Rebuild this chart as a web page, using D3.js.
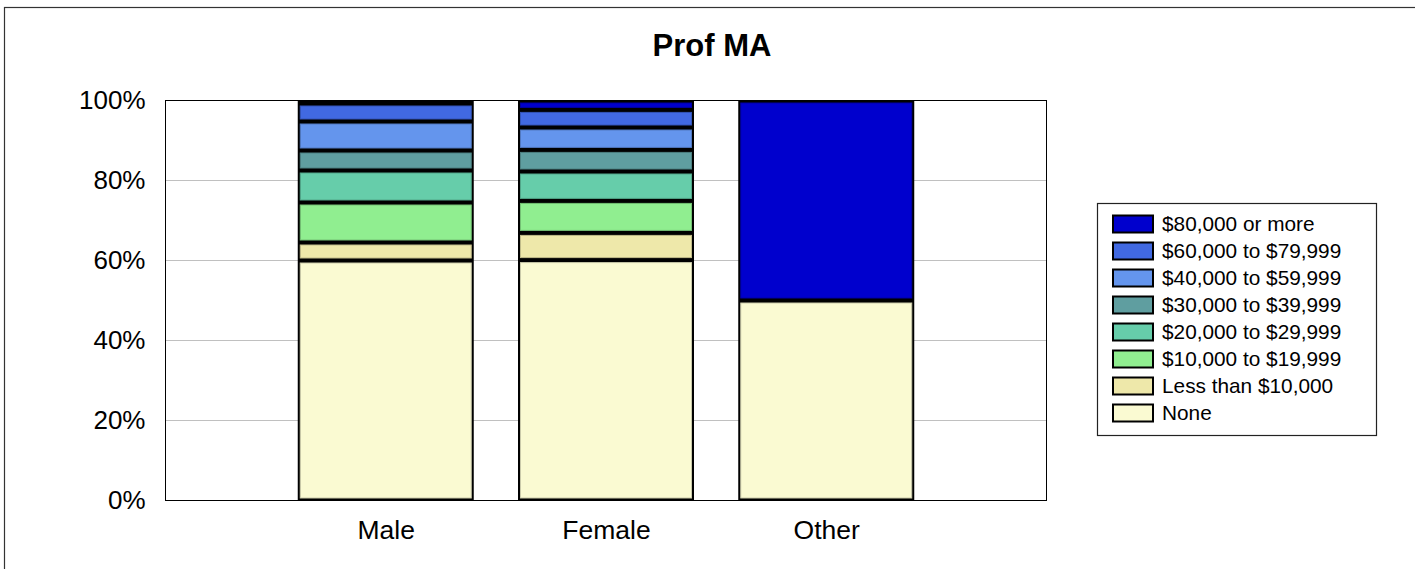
<!DOCTYPE html>
<html>
<head>
<meta charset="utf-8">
<script src="https://cdn.jsdelivr.net/npm/d3@7"></script>
<style>
  body { margin: 0; background: #fff; }
  svg { display: block; font-family: "Liberation Sans", Arial, sans-serif; }
</style>
</head>
<body>
<script>
// chart data
const categories = ["Male", "Female", "Other"];
const series = ["None", "Less than $10,000", "$10,000 to $19,999", "$20,000 to $29,999",
                "$30,000 to $39,999", "$40,000 to $59,999", "$60,000 to $79,999", "$80,000 or more"];
const maleValues = [60, 4.5, 10, 8, 5, 7.25, 4.5, 0.75];
const femaleValues = [60.1, 6.8, 8, 7.35, 5.4, 5.6, 4.4, 2.35];
const otherValues = [50, 0, 0, 0, 0, 0, 0, 50];
const seriesColors = ["#FAFAD2", "#EEE8AA", "#90EE90", "#66CDAA", "#5F9EA0", "#6495ED", "#4169E1", "#0000CD"];
const yTicks = [0, 20, 40, 60, 80, 100];
const chartTitle = "Prof MA";

window.onload = drawChart();

function drawChart(){
    let width = 1415;
    let height = 569;

    let svg = d3.select("body")
        .append("svg")
        .attr("width", width)
        .attr("height", height);

    // outer frame (runs off the right/bottom edge)
    svg.append("rect")
        .attr("x", 4.5)
        .attr("y", 7.5)
        .attr("width", 1600)
        .attr("height", 800)
        .attr("fill", "none")
        .attr("stroke", "#333")
        .attr("stroke-width", 1.2);

    let plot = { left: 165.5, right: 1046.5, top: 100.5, bottom: 500.5 };

    let x = d3.scalePoint()
        .domain(categories)
        .range([plot.left, plot.right])
        .padding(1);

    let y = d3.scaleLinear()
        .domain([0, 100])
        .range([plot.bottom, plot.top]);

    let barWidth = 176;

    // table for stacking
    let valueSets = [maleValues, femaleValues, otherValues];
    let table = categories.map((c, i) => {
        let row = { category: c };
        series.forEach((s, j) => row[s] = valueSets[i][j]);
        return row;
    });
    let stacked = d3.stack().keys(series)(table);

    // gridlines
    svg.append("g")
        .selectAll("line")
        .data(yTicks)
        .enter()
        .append("line")
        .attr("x1", plot.left)
        .attr("x2", plot.right)
        .attr("y1", d => y(d))
        .attr("y2", d => y(d))
        .attr("stroke", "#c0c0c0")
        .attr("stroke-width", 1);

    // plot frame
    svg.append("rect")
        .attr("x", plot.left)
        .attr("y", plot.top)
        .attr("width", plot.right - plot.left)
        .attr("height", plot.bottom - plot.top)
        .attr("fill", "none")
        .attr("stroke", "#000")
        .attr("stroke-width", 1);

    // y axis labels
    let yAxis = d3.axisLeft(y)
        .tickValues(yTicks)
        .tickFormat(d => d + "%")
        .tickSize(0)
        .tickPadding(20);
    let yg = svg.append("g")
        .attr("transform", `translate(${plot.left},0)`)
        .call(yAxis);
    yg.select(".domain").remove();
    yg.selectAll("text")
        .attr("font-size", 26)
        .attr("fill", "#000")
        .attr("font-family", "Liberation Sans, Arial, sans-serif");

    // x axis labels
    let xAxis = d3.axisBottom(x).tickSize(0).tickPadding(20);
    let xg = svg.append("g")
        .attr("transform", `translate(0,${plot.bottom})`)
        .call(xAxis);
    xg.select(".domain").remove();
    xg.selectAll("text")
        .attr("font-size", 26.5)
        .attr("fill", "#000")
        .attr("font-family", "Liberation Sans, Arial, sans-serif");

    // bar backgrounds (black outlines)
    svg.append("g")
        .selectAll("rect")
        .data(categories)
        .enter()
        .append("rect")
        .attr("x", d => x(d) - barWidth / 2)
        .attr("y", y(100))
        .attr("width", barWidth)
        .attr("height", y(0) - y(100))
        .attr("fill", "#000");

    // segments
    let layers = svg.append("g")
        .selectAll("g")
        .data(stacked)
        .enter()
        .append("g")
        .attr("fill", (d, i) => seriesColors[i])
        .attr("stroke", (d, i) => d3.color(seriesColors[i]).darker(0.6));

    layers.selectAll("rect")
        .data(d => d.filter(p => y(p[0]) - y(p[1]) > 5))
        .enter()
        .append("rect")
        .attr("x", d => x(d.data.category) - barWidth / 2 + 2.5)
        .attr("y", d => y(d[1]) + 2.5)
        .attr("width", barWidth - 5)
        .attr("height", d => y(d[0]) - y(d[1]) - 5)
        .attr("stroke-width", 1);

    // title
    svg.append("text")
        .attr("x", 712)
        .attr("y", 56)
        .attr("text-anchor", "middle")
        .attr("font-size", 31)
        .attr("font-weight", "bold")
        .text(chartTitle);

    // legend
    let legend = svg.append("g");
    legend.append("rect")
        .attr("x", 1097.5)
        .attr("y", 203.5)
        .attr("width", 279)
        .attr("height", 232)
        .attr("fill", "#fff")
        .attr("stroke", "#222")
        .attr("stroke-width", 1.2);

    let items = legend.selectAll(".item")
        .data(series.slice().reverse())
        .enter()
        .append("g")
        .attr("class", "item")
        .attr("transform", (d, i) => `translate(0,${224 + i * 27})`);

    items.append("rect")
        .attr("x", 1113)
        .attr("y", -8.5)
        .attr("width", 40)
        .attr("height", 17)
        .attr("fill", d => seriesColors[series.indexOf(d)])
        .attr("stroke", "#000")
        .attr("stroke-width", 2);

    items.append("text")
        .attr("x", 1162)
        .attr("y", 7)
        .attr("font-size", 20.8)
        .attr("fill", "#000")
        .text(d => d);
};
</script>
</body>
</html>
